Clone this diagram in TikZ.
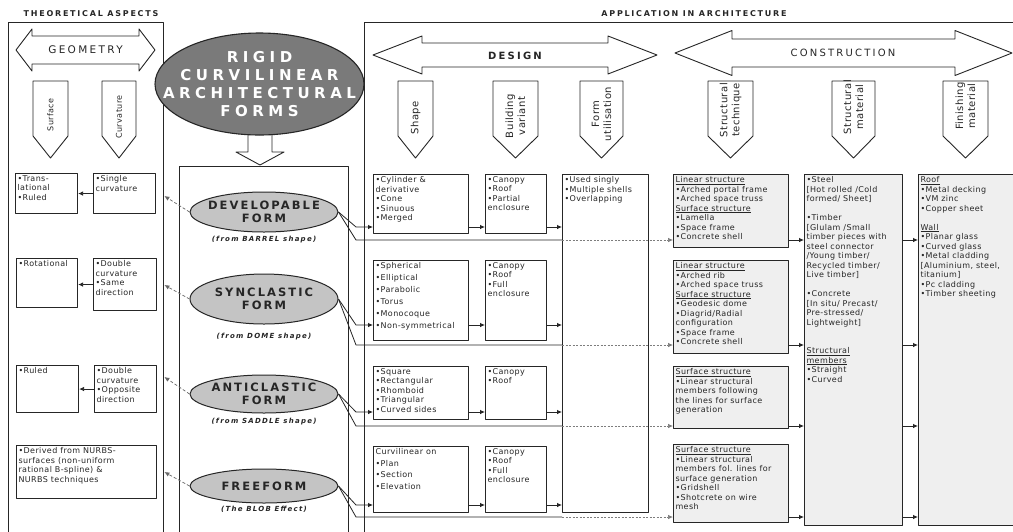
\documentclass[tikz,border=0pt]{standalone}
\usepackage{fontspec}
\setmainfont{DejaVu Sans}[LetterSpace=5]
\newfontfamily\headfont{DejaVu Sans}[LetterSpace=22]
\newfontfamily\formfont{DejaVu Sans}[LetterSpace=18]
\newfontfamily\titlefont{DejaVu Sans}[LetterSpace=30]
\usetikzlibrary{calc}
\usetikzlibrary{arrows.meta}
\usetikzlibrary{shapes.geometric}

\definecolor{ink}{HTML}{262626}
\definecolor{ovalgray}{HTML}{C4C4C4}
\definecolor{titlegray}{HTML}{7A7A7A}
\definecolor{cellgray}{HTML}{EFEFEF}

\newcommand{\boxtext}[3]{\parbox[t][#2pt][t]{#1pt}{#3}}

\begin{document}
\begin{tikzpicture}[x=1pt, y=-1pt, line join=round,
  outerframe/.style={draw=ink, line width=1.4pt, anchor=north west, inner sep=0pt},
  cell/.style={draw=ink, line width=1.1pt, fill=white, anchor=north west, inner sep=2pt, text=ink, font=\fontsize{8}{9.5}\selectfont},
  greycell/.style={cell, fill=cellgray},
  band/.style={draw=ink, line width=0.9pt, fill=white},
  collabel/.style={rotate=90, align=center, text=ink, inner sep=0pt},
  oval/.style={ellipse, draw=ink, line width=1pt, fill=ovalgray, minimum width=148, inner sep=0pt},
  formlabel/.style={align=center, text=ink, font=\formfont\bfseries\fontsize{11.5}{12.5}\selectfont},
  srcnote/.style={text=ink, font=\formfont\bfseries\itshape\fontsize{7}{8}\selectfont},
  link/.style={draw=ink, line width=0.8pt, -{Latex[length=5pt,width=4.5pt]}},
  plainline/.style={draw=ink, line width=0.8pt},
  passline/.style={draw=ink!60, line width=0.7pt, dash pattern=on 2pt off 1.5pt, -{Latex[length=5pt,width=4.5pt]}},
  feedback/.style={draw=ink!70, line width=0.7pt, dash pattern=on 3pt off 2pt, -{Latex[length=5pt,width=4.5pt]}}]

\fill[white] (0,0) rectangle (1013,531);
\useasboundingbox (0,0) rectangle (1013,531);
\clip (0,0) rectangle (1013,531);

% headings and frames
\node[text=ink, font=\headfont\bfseries\fontsize{8}{9}\selectfont] (theory-title) at (91,14) {THEORETICAL ASPECTS};
\node[text=ink, font=\headfont\bfseries\fontsize{8}{9}\selectfont] (application-title) at (694,14) {APPLICATION IN ARCHITECTURE};

\node[outerframe, minimum width=155, minimum height=530] (theory) at (8,22) {};
\node[outerframe, minimum width=169, minimum height=380] (forms) at (179,166) {};
\node[outerframe, minimum width=670, minimum height=530] (application) at (364,22) {};

% two-way arrows
\foreach \xa/\xb/\yc/\hl/\hh/\sh in {16/155/50/16/21/14, 373/657/55/49/19/12, 675/1012/53/57/22.5/14}
  \draw[band] (\xa,\yc) -- (\xa+\hl,\yc-\hh) -- (\xa+\hl,\yc-\sh) -- (\xb-\hl,\yc-\sh) -- (\xb-\hl,\yc-\hh) -- (\xb,\yc)
    -- (\xb-\hl,\yc+\hh) -- (\xb-\hl,\yc+\sh) -- (\xa+\hl,\yc+\sh) -- (\xa+\hl,\yc+\hh) -- cycle;
\node[text=ink, font=\headfont\fontsize{10.5}{12}\selectfont] (geometry) at (85.5,50) {GEOMETRY};
\node[text=ink, font=\headfont\bfseries\fontsize{10}{12}\selectfont] (design) at (515,56) {DESIGN};
\node[text=ink, font=\headfont\fontsize{10}{12}\selectfont] (construction) at (843,53) {CONSTRUCTION};

% column arrows
\foreach \nm/\cx/\w/\ty/\lbl in {surface/50.5/35/115/Surface, curvature/119/34/117/Curvature} {
  \draw[band] (\cx-\w/2,81) -- (\cx+\w/2,81) -- (\cx+\w/2,136) -- (\cx,158) -- (\cx-\w/2,136) -- cycle;
  \node[collabel, font=\fontsize{8}{9}\selectfont] (\nm-col) at (\cx,\ty) {\lbl};
}
\foreach \nm/\cx/\w/\ty/\lbl in {shape/415.5/35/118/Shape, variant/515.5/45/116/{Building\\variant},
    utilisation/601.5/43/114/{Form\\utilisation}, technique/730.5/45/110/{Structural\\technique},
    material/853.5/43/107/{Structural\\material}, finishing/965.5/45/106/{Finishing\\material}} {
  \draw[band] (\cx-\w/2,81) -- (\cx+\w/2,81) -- (\cx+\w/2,136) -- (\cx,158) -- (\cx-\w/2,136) -- cycle;
  \node[collabel, font=\fontsize{10}{12}\selectfont] (\nm-col) at (\cx,\ty) {\lbl};
}

% theoretical aspects
\node[cell] (surf1) at (15,173) {\boxtext{58}{36}{•Trans-\\lational\\•Ruled}};
\node[cell] (curv1) at (93,173) {\boxtext{58}{36}{•Single\\curvature}};
\node[cell] (surf2) at (16,258) {\boxtext{57}{45}{•Rotational}};
\node[cell] (curv2) at (93,258) {\boxtext{59}{48}{•Double\\curvature\\•Same\\direction}};
\node[cell] (surf3) at (16,365) {\boxtext{58}{43}{•Ruled}};
\node[cell] (curv3) at (94,365) {\boxtext{58}{43}{•Double\\curvature\\•Opposite\\direction}};
\node[cell] (surf4) at (16,445) {\boxtext{136}{49}{•Derived from NURBS-\\surfaces (non-uniform\\rational B-spline) \&\\NURBS techniques}};

% forms
\node[oval, minimum height=40, label={[formlabel]center:DEVELOPABLE\\FORM}] (developable) at (264,212) {};
\node[srcnote] (developable-note) at (264,240) {(from BARREL shape)};
\node[oval, minimum height=50, label={[formlabel]center:SYNCLASTIC\\FORM}] (synclastic) at (264,299) {};
\node[srcnote] (synclastic-note) at (264,337) {(from DOME shape)};
\node[oval, minimum height=38, label={[formlabel]center:ANTICLASTIC\\FORM}] (anticlastic) at (264,394) {};
\node[srcnote] (anticlastic-note) at (264,422) {(from SADDLE shape)};
\node[oval, minimum height=34, label={[formlabel]center:FREEFORM}] (freeform) at (264,486) {};
\node[srcnote] (freeform-note) at (264,509) {(The BLOB Effect)};

% design
\node[cell] (shp1) at (373,174) {\boxtext{91}{55}{•Cylinder \&\\derivative\\•Cone\\•Sinuous\\•Merged}};
\node[cell] (shp2) at (373,260) {\boxtext{91}{76}{\baselineskip=12pt •Spherical\\•Elliptical\\•Parabolic\\•Torus\\•Monocoque\\•Non-symmetrical}};
\node[cell] (shp3) at (373,366) {\boxtext{91}{49}{•Square\\•Rectangular\\•Rhomboid\\•Triangular\\•Curved sides}};
\node[cell] (shp4) at (373,446) {\boxtext{91}{62}{\baselineskip=11.5pt Curvilinear on\\•Plan\\•Section\\•Elevation}};
\node[cell] (bld1) at (485,174) {\boxtext{57}{55}{•Canopy\\•Roof\\•Partial\\enclosure}};
\node[cell] (bld2) at (485,260) {\boxtext{57}{76}{•Canopy\\•Roof\\•Full\\enclosure}};
\node[cell] (bld3) at (485,366) {\boxtext{57}{49}{•Canopy\\•Roof}};
\node[cell] (bld4) at (485,446) {\boxtext{57}{62}{•Canopy\\•Roof\\•Full\\enclosure}};
\node[cell] (use) at (562,174) {\boxtext{82}{334}{•Used singly\\•Multiple shells\\•Overlapping}};

% construction
\node[greycell] (tech1) at (673,174) {\boxtext{111}{69}{\underline{Linear structure}\\•Arched portal frame\\•Arched space truss\\\underline{Surface structure}\\•Lamella\\•Space frame\\•Concrete shell}};
\node[greycell] (tech2) at (673,260) {\boxtext{111}{89}{\underline{Linear structure}\\•Arched rib\\•Arched space truss\\\underline{Surface structure}\\•Geodesic dome\\•Diagrid/Radial\\configuration\\•Space frame\\•Concrete shell}};
\node[greycell] (tech3) at (673,366) {\boxtext{111}{58}{\underline{Surface structure}\\•Linear structural\\members following\\the lines for surface\\generation}};
\node[greycell] (tech4) at (673,444) {\boxtext{111}{74}{\underline{Surface structure}\\•Linear structural\\members fol. lines for\\surface generation\\•Gridshell\\•Shotcrete on wire\\mesh}};
\node[greycell] (mat) at (804,174) {\boxtext{94}{347}{•Steel\\{[}Hot rolled /Cold\\formed/ Sheet]\\[9.5pt]•Timber\\{[}Glulam /Small\\timber pieces with\\steel connector\\/Young timber/\\Recycled timber/\\Live timber]\\[9.5pt]•Concrete\\{[}In situ/ Precast/\\Pre-stressed/\\Lightweight]\\[19pt]\underline{Structural}\\\underline{members}\\•Straight\\•Curved}};
\node[greycell] (fin) at (918,174) {\boxtext{91}{347}{\underline{Roof}\\•Metal decking\\•VM zinc\\•Copper sheet\\[9.5pt]\underline{Wall}\\•Planar glass\\•Curved glass\\•Metal cladding\\{[}Aluminium, steel,\\titanium]\\•Pc cladding\\•Timber sheeting}};

% connectors
\foreach \f/\y in {developable/196, synclastic/285, anticlastic/377, freeform/472}
  \draw[feedback] (\f.west) -- (theory.east |- 0,\y);
\draw[link] (curv1.west) -- (surf1.east |- curv1.west);
\draw[link] (curv2.west) -- (surf2.east |- curv2.west);
\draw[link] (curv3.west) -- (surf3.east |- curv3.west);

\foreach \f/\r/\ya/\yb in {developable/1/227/240, synclastic/2/325/345, anticlastic/3/412/426, freeform/4/505/517} {
  \draw[link] (\f.east) -- (356,\ya) -- (shp\r.west |- 0,\ya);
  \draw[link] (shp\r.east |- 0,\ya) -- (bld\r.west |- 0,\ya);
  \draw[link] (bld\r.east |- 0,\ya) -- (use.west |- 0,\ya);
  \draw[plainline] (\f.east) -- (356,\yb) -- (use.west |- 0,\yb);
  \draw[passline] (use.west |- 0,\yb) -- (tech\r.west |- 0,\yb);
  \draw[link] (tech\r.east |- 0,\yb) -- (mat.west |- 0,\yb);
  \draw[link] (mat.east |- 0,\yb) -- (fin.west |- 0,\yb);
}

% title
\draw[band] (248,134) -- (248,152) -- (236,152) -- (260,165) -- (284,152) -- (272,152) -- (272,134);
\node[ellipse, draw=ink, line width=1.1pt, fill=titlegray, minimum width=209, minimum height=102, inner sep=0pt,
  label={[align=center, text=white, font=\titlefont\bfseries\fontsize{15}{18}\selectfont]center:RIGID\\CURVILINEAR\\ARCHITECTURAL\\FORMS}] (title) at (259.5,84) {};

\end{tikzpicture}
\end{document}
